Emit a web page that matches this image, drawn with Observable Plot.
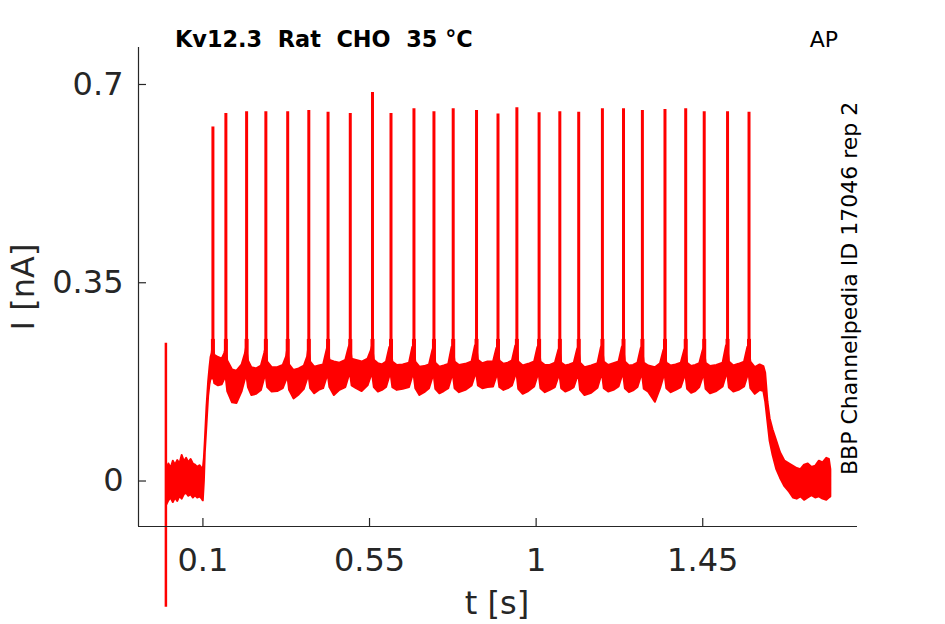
<!DOCTYPE html>
<html><head><meta charset="utf-8">
<script src="https://cdn.jsdelivr.net/npm/d3@7"></script>
<script src="https://cdn.jsdelivr.net/npm/@observablehq/plot@0.6"></script>
<style>body{margin:0;background:#fff} svg text.pre{white-space:pre}</style>
</head><body><div id="chart"></div>
<script>
const xTicks = [0.1, 0.55, 1, 1.45];
const yTicks = [0, 0.35, 0.7];
const spikeT = [0.127,0.162,0.218,0.270,0.329,0.386,0.438,0.498,0.558,0.608,0.670,0.724,0.776,0.839,0.897,0.948,1.008,1.064,1.115,1.179,1.236,1.287,1.348,1.404,1.454,1.517,1.575];
const spikePeak = [0.625,0.649,0.652,0.652,0.652,0.654,0.651,0.649,0.686,0.649,0.657,0.652,0.657,0.654,0.648,0.659,0.650,0.652,0.651,0.657,0.657,0.654,0.656,0.657,0.652,0.652,0.651];
const spikeBase = 0.19;
const spikeNeck = 0.25;
const artifactT = [0.0];
const artifactLo = [-0.223];
const artifactHi = [0.243];
const bandT = [
0.002,0.008,0.014,0.020,0.026,0.032,0.038,0.044,0.050,0.056,0.062,0.068,0.074,0.080,0.086,0.092,0.098,
0.101,0.104,0.1065,0.111,0.1155,0.119,0.122,0.125,
0.127,0.132,0.142,0.152,0.159,
0.162,0.167,0.180,0.192,0.206,0.215,
0.218,0.223,0.232,0.245,0.258,0.267,
0.270,0.275,0.287,0.302,0.317,0.326,
0.329,0.334,0.346,0.360,0.374,0.383,
0.386,0.391,0.402,0.414,0.426,0.435,
0.438,0.443,0.455,0.470,0.486,0.495,
0.498,0.503,0.515,0.530,0.546,0.555,
0.558,0.563,0.574,0.585,0.596,0.605,
0.608,0.613,0.625,0.641,0.658,0.667,
0.670,0.675,0.686,0.699,0.712,0.721,
0.724,0.729,0.740,0.752,0.764,0.773,
0.776,0.781,0.793,0.810,0.827,0.836,
0.839,0.844,0.856,0.870,0.885,0.894,
0.897,0.902,0.913,0.925,0.936,0.945,
0.948,0.953,0.965,0.980,0.996,1.005,
1.008,1.013,1.025,1.038,1.052,1.061,
1.064,1.069,1.080,1.091,1.103,1.112,
1.115,1.120,1.132,1.150,1.167,1.176,
1.179,1.184,1.196,1.210,1.224,1.233,
1.236,1.241,1.252,1.263,1.275,1.284,
1.287,1.292,1.304,1.322,1.336,1.345,
1.348,1.353,1.365,1.378,1.392,1.401,
1.404,1.409,1.420,1.431,1.442,1.451,
1.454,1.459,1.471,1.488,1.505,1.514,
1.517,1.522,1.534,1.548,1.563,1.572,
1.575,1.580,1.592,1.605,1.615,
1.620,1.626,1.632,1.640,1.650,1.660,1.672,1.685,
1.695,1.705,1.715,1.725,1.735,1.745,1.755,1.765,1.775,1.785,1.792,1.796];
const bandHi = [
0.018,0.030,0.022,0.035,0.028,0.036,0.030,0.045,0.034,0.040,0.032,0.038,0.030,0.028,0.024,0.027,0.022,
0.020,0.040,0.070,0.130,0.175,0.200,0.218,0.225,
0.238,0.222,0.218,0.215,0.225,
0.232,0.212,0.196,0.194,0.205,0.225,
0.236,0.212,0.200,0.198,0.203,0.225,
0.234,0.210,0.200,0.200,0.204,0.219,
0.232,0.205,0.195,0.198,0.203,0.219,
0.235,0.210,0.201,0.203,0.205,0.230,
0.238,0.213,0.210,0.208,0.213,0.236,
0.240,0.215,0.213,0.210,0.215,0.230,
0.238,0.213,0.207,0.205,0.210,0.236,
0.238,0.210,0.204,0.205,0.208,0.236,
0.238,0.210,0.201,0.202,0.205,0.230,
0.236,0.208,0.201,0.203,0.206,0.236,
0.236,0.210,0.204,0.206,0.210,0.238,
0.240,0.213,0.207,0.210,0.210,0.234,
0.236,0.212,0.206,0.208,0.212,0.238,
0.240,0.210,0.203,0.206,0.210,0.236,
0.238,0.210,0.204,0.204,0.208,0.230,
0.234,0.208,0.203,0.205,0.208,0.232,
0.236,0.208,0.200,0.203,0.207,0.235,
0.238,0.210,0.204,0.207,0.210,0.236,
0.238,0.210,0.203,0.204,0.208,0.234,
0.236,0.208,0.203,0.200,0.207,0.230,
0.234,0.208,0.203,0.205,0.208,0.230,
0.234,0.208,0.202,0.204,0.207,0.230,
0.234,0.208,0.202,0.204,0.208,0.238,
0.240,0.210,0.203,0.206,0.210,0.236,
0.236,0.210,0.200,0.205,0.202,
0.190,0.140,0.110,0.090,0.070,0.050,0.035,0.030,
0.026,0.022,0.020,0.028,0.030,0.024,0.026,0.035,0.032,0.040,0.038,0.020];
const bandLo = [
-0.043,-0.035,-0.030,-0.038,-0.030,-0.036,-0.027,-0.032,-0.024,-0.022,-0.027,-0.024,-0.030,-0.026,-0.030,-0.028,-0.032,
-0.035,0.000,0.050,0.100,0.150,0.170,0.180,0.180,
0.190,0.172,0.168,0.170,0.180,
0.188,0.158,0.138,0.137,0.158,0.180,
0.190,0.165,0.151,0.153,0.160,0.182,
0.190,0.165,0.157,0.158,0.163,0.178,
0.188,0.160,0.145,0.152,0.162,0.180,
0.190,0.163,0.154,0.160,0.163,0.182,
0.190,0.165,0.151,0.160,0.165,0.185,
0.192,0.168,0.163,0.158,0.168,0.185,
0.190,0.165,0.157,0.160,0.165,0.185,
0.190,0.165,0.160,0.162,0.165,0.185,
0.190,0.163,0.151,0.156,0.163,0.182,
0.190,0.162,0.154,0.158,0.163,0.183,
0.190,0.163,0.156,0.160,0.168,0.186,
0.192,0.168,0.163,0.165,0.166,0.184,
0.190,0.165,0.160,0.163,0.168,0.186,
0.192,0.162,0.153,0.158,0.166,0.185,
0.190,0.163,0.156,0.160,0.165,0.183,
0.190,0.163,0.157,0.160,0.165,0.183,
0.190,0.160,0.151,0.155,0.164,0.184,
0.190,0.163,0.157,0.160,0.166,0.185,
0.190,0.163,0.156,0.159,0.165,0.184,
0.190,0.162,0.157,0.139,0.163,0.183,
0.190,0.163,0.156,0.160,0.165,0.183,
0.190,0.162,0.155,0.158,0.165,0.183,
0.190,0.162,0.154,0.158,0.166,0.186,
0.192,0.164,0.157,0.160,0.166,0.185,
0.190,0.163,0.153,0.160,0.158,
0.140,0.105,0.070,0.045,0.020,0.005,-0.010,-0.020,
-0.030,-0.032,-0.028,-0.034,-0.030,-0.026,-0.030,-0.028,-0.032,-0.034,-0.030,-0.028];

const band = bandT.map((t, i) => ({t, hi: bandHi[i], lo: bandLo[i]}));
const spikes = spikeT.map((t, i) => ({t, peak: spikePeak[i], base: spikeBase, neck: spikeNeck}));
const artifact = artifactT.map((t, i) => ({t, lo: artifactLo[i], hi: artifactHi[i]}));

const W = 945, H = 624, mL = 138, mR = 88, mT = 47, mB = 98;
const xDomain = [-0.074, 1.868], yDomain = [-0.0803, 0.7653];
const xPerPx = (xDomain[1] - xDomain[0]) / (W - mL - mR);
const yPerPx = (yDomain[1] - yDomain[0]) / (H - mT - mB);
const red = "#ff0000", axisColor = "#262626";

const plot = Plot.plot({
  width: W, height: H, marginLeft: mL, marginRight: mR, marginTop: mT, marginBottom: mB,
  x: {domain: xDomain}, y: {domain: yDomain},
  style: {fontFamily: "DejaVu Sans", fontSize: "32px", color: axisColor, background: "white", overflow: "visible"},
  marks: [
    Plot.areaY(band, {x: "t", y1: "lo", y2: "hi", fill: red, stroke: red, strokeWidth: 2, strokeLinejoin: "round"}),
    Plot.ruleX(spikes, {x: "t", y1: "base", y2: "peak", stroke: red, strokeWidth: 3}),
    Plot.ruleX(spikes, {x: "t", y1: "base", y2: "neck", stroke: red, strokeWidth: 4}),
    Plot.ruleX(artifact, {x: "t", y1: "lo", y2: "hi", stroke: red, strokeWidth: 2.5}),
    Plot.ruleY([yDomain[0]], {stroke: axisColor, strokeWidth: 1.2}),
    Plot.ruleX([xDomain[0]], {stroke: axisColor, strokeWidth: 1.2}),
    Plot.ruleX(xTicks, {x: d => d, y1: yDomain[0], y2: yDomain[0] + 8 * yPerPx, stroke: axisColor, strokeWidth: 1.2}),
    Plot.ruleY(yTicks, {y: d => d, x1: xDomain[0], x2: xDomain[0] + 8 * xPerPx, stroke: axisColor, strokeWidth: 1.2}),
    Plot.axisX(xTicks, {tickSize: 0, tickPadding: 22, tickFormat: d => String(d), label: null, fill: axisColor}),
    Plot.axisY(yTicks, {tickSize: 0, tickPadding: 15, tickFormat: d => String(d), label: null, fill: axisColor})
  ]
});

const svg = d3.select(plot);
svg.append("text").attr("transform", "translate(34,287) rotate(-90)")
  .attr("text-anchor", "middle").attr("fill", axisColor)
  .style("font-size", "32px").text("I [nA]");
svg.append("text").attr("x", 497).attr("y", 614)
  .attr("text-anchor", "middle").attr("fill", axisColor)
  .style("font-size", "32px").text("t [s]");
svg.append("text").attr("class", "pre").attr("x", 175).attr("y", 47)
  .attr("text-anchor", "start")
  .attr("fill", "#000").style("font-size", "22.4px").style("font-weight", "bold")
  .text("Kv12.3  Rat  CHO  35 °C");
svg.append("text").attr("x", 838).attr("y", 47).attr("text-anchor", "end")
  .attr("fill", "#000").style("font-size", "22px").text("AP");
svg.append("text").attr("transform", "translate(857,475) rotate(-90)")
  .attr("text-anchor", "start").attr("fill", "#000")
  .style("font-size", "22px").text("BBP Channelpedia ID 17046 rep 2");

document.getElementById("chart").appendChild(plot);
</script>
</body></html>
